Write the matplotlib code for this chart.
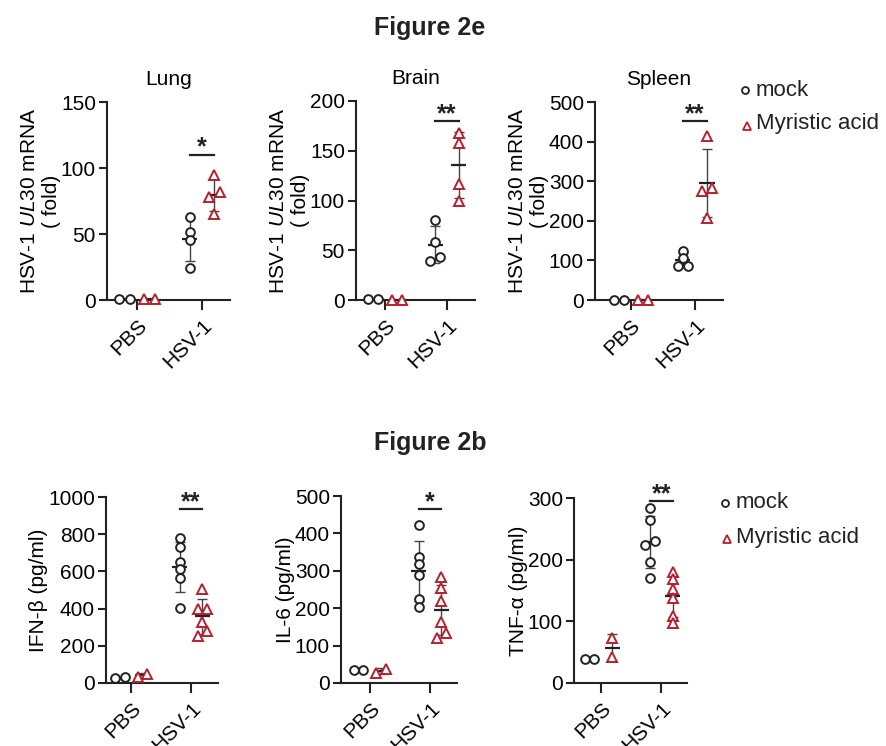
import numpy as np
import matplotlib.pyplot as plt
from matplotlib.lines import Line2D

plt.rcParams['font.family'] = ['Liberation Sans', 'DejaVu Sans']
plt.rcParams['mathtext.fontset'] = 'custom'
plt.rcParams['mathtext.rm'] = 'Liberation Sans'
plt.rcParams['mathtext.it'] = 'Liberation Sans:italic'

RED = '#b5202e'
DARK = '#222222'

groups = ["PBS", "HSV-1"]

# Figure 2e - HSV-1 UL30 mRNA (fold)
lung_mock = [[1, 1], [63, 51.5, 45.5, 24]]
lung_ma = [[0.5, 0.5], [94.5, 82, 78, 65]]
brain_mock = [[1, 1], [80.5, 58.7, 43.6, 39.3]]
brain_ma = [[0.5, 0.5], [168, 158, 117, 99]]
spleen_mock = [[1, 1], [123, 105, 86, 86]]
spleen_ma = [[1, 1], [414, 284, 274, 208]]

# Figure 2b - cytokines (pg/ml)
ifn_mock = [[25, 30], [782, 733, 651, 611, 564, 405]]
ifn_ma = [[33, 51], [505, 396, 396, 327, 278, 251]]
il6_mock = [[34, 36], [423, 338, 317, 290, 225, 203]]
il6_ma = [[27, 38], [284, 255, 218, 164, 135, 120]]
tnf_mock = [[39.5, 39.5], [284, 265, 230, 223, 196, 170]]
tnf_ma = [[73, 42], [180, 169, 153, 138, 108, 97]]

panel_titles = ["Lung", "Brain", "Spleen", "", "", ""]
ylabels = ["HSV-1 $\\it{UL30}$ mRNA\n( fold)"] * 3 + ["IFN-β (pg/ml)", "IL-6 (pg/ml)", "TNF-α (pg/ml)"]
ymax = [150, 200, 500, 1000, 500, 300]
ystep = [50, 50, 100, 200, 100, 100]
sig_y = [110, 180, 452, 935, 465, 295]
sig_text = ["*", "**", "**", "**", "*", "**"]

panels = [(lung_mock, lung_ma), (brain_mock, brain_ma), (spleen_mock, spleen_ma),
          (ifn_mock, ifn_ma), (il6_mock, il6_ma), (tnf_mock, tnf_ma)]

# axes boxes in pixels: left, right, top, bottom ; and x limits
boxes = [(107, 230, 102, 300), (356, 475, 101, 300), (595, 723, 102, 300),
         (106, 218, 497, 683), (341, 457, 496, 683), (574, 687, 498, 683)]
xlims = [(-0.46, 1.43), (-0.47, 1.45), (-0.56, 1.44),
         (-0.42, 1.45), (-0.48, 1.45), (-0.45, 1.43)]

W, H = 887, 746
OFF = 0.19


def spread(vals, thr):
    vals = np.asarray(vals, dtype=float)
    order = np.argsort(vals)
    offs = np.zeros(len(vals))
    clusters = [[order[0]]]
    for a, b in zip(order[:-1], order[1:]):
        if vals[b] - vals[a] < thr:
            clusters[-1].append(b)
        else:
            clusters.append([b])
    for c in clusters:
        n = len(c)
        for k, idx in enumerate(c):
            offs[idx] = (k - (n - 1) / 2) * 0.16
    return offs


def draw_group(ax, x, vals, marker, color, thr):
    vals = np.asarray(vals, dtype=float)
    offs = spread(vals, thr)
    m = vals.mean()
    s = vals.std(ddof=1)
    ax.errorbar(x, m, yerr=s, fmt='none', ecolor='#444444', elinewidth=1.0,
                capsize=3.5, capthick=1.0, zorder=2, clip_on=False)
    ax.plot([x - 0.12, x + 0.12], [m, m], color=DARK, lw=1.6, zorder=2,
            solid_capstyle='butt', clip_on=False)
    ax.plot(x + offs, vals, ls='none', marker=marker, mfc='white', mec=color,
            ms=6.3 if marker == 'o' else 6.8, mew=1.4, zorder=3, clip_on=False)


fig = plt.figure(figsize=(W / 100, H / 100), dpi=100)

for i, (mock, ma) in enumerate(panels):
    l, r, t, b = boxes[i]
    ax = fig.add_axes([l / W, 1 - b / H, (r - l) / W, (b - t) / H])
    thr = 0.034 * ymax[i]
    for g in range(2):
        draw_group(ax, g - OFF, mock[g], 'o', DARK, thr)
        draw_group(ax, g + OFF, ma[g], '^', RED, thr)

    ax.plot([1 - OFF, 1 + OFF], [sig_y[i], sig_y[i]], color=DARK, lw=1.6)
    ax.annotate(sig_text[i], (1, sig_y[i]), xytext=(0, 0), textcoords='offset points',
                ha='center', va='baseline', fontsize=18, fontweight='bold', color=DARK)

    ax.set_xlim(*xlims[i])
    ax.set_ylim(0, ymax[i])
    ax.set_yticks(np.arange(0, ymax[i] + 1, ystep[i]))
    ax.set_xticks([0, 1])
    ax.set_xticklabels(groups, rotation=45, ha='right', rotation_mode='anchor')
    ax.spines[['top', 'right']].set_visible(False)
    for sp in ['left', 'bottom']:
        ax.spines[sp].set_linewidth(1.5)
        ax.spines[sp].set_color(DARK)
    ax.tick_params(axis='both', labelsize=15, width=1.5, length=6, color=DARK, pad=2)
    ax.tick_params(axis='x', length=7, pad=4)
    ax.set_ylabel(ylabels[i], fontsize=15, multialignment='center', labelpad=0)
    if panel_titles[i]:
        ax.set_title(panel_titles[i], fontsize=15, pad=12)

fig.text(430 / W, 1 - 28 / H, "Figure 2e", ha='center', va='center',
         fontsize=18, fontweight='bold', color=DARK)
fig.text(430 / W, 1 - 443 / H, "Figure 2b", ha='center', va='center',
         fontsize=18, fontweight='bold', color=DARK)

# legends
legend_names = ["mock", "Myristic acid"]
for (cx, cy, tx, ty) in [(745, 90, 756, 90), (725, 503, 736, 503)]:
    fig.add_artist(Line2D([cx / W], [1 - cy / H], transform=fig.transFigure, ls='none',
                          marker='o', mfc='white', mec=DARK, ms=5, mew=1.3))
    fig.text(tx / W, 1 - ty / H, legend_names[0], ha='left', va='center', fontsize=16, color=DARK)
    fig.add_artist(Line2D([(cx + 2) / W], [1 - (cy + 36) / H], transform=fig.transFigure, ls='none',
                          marker='^', mfc='white', mec=RED, ms=5.5, mew=1.3))
    fig.text(tx / W, 1 - (ty + 34) / H, legend_names[1], ha='left', va='center', fontsize=16, color=DARK)

plt.savefig("out.png", dpi=100)
